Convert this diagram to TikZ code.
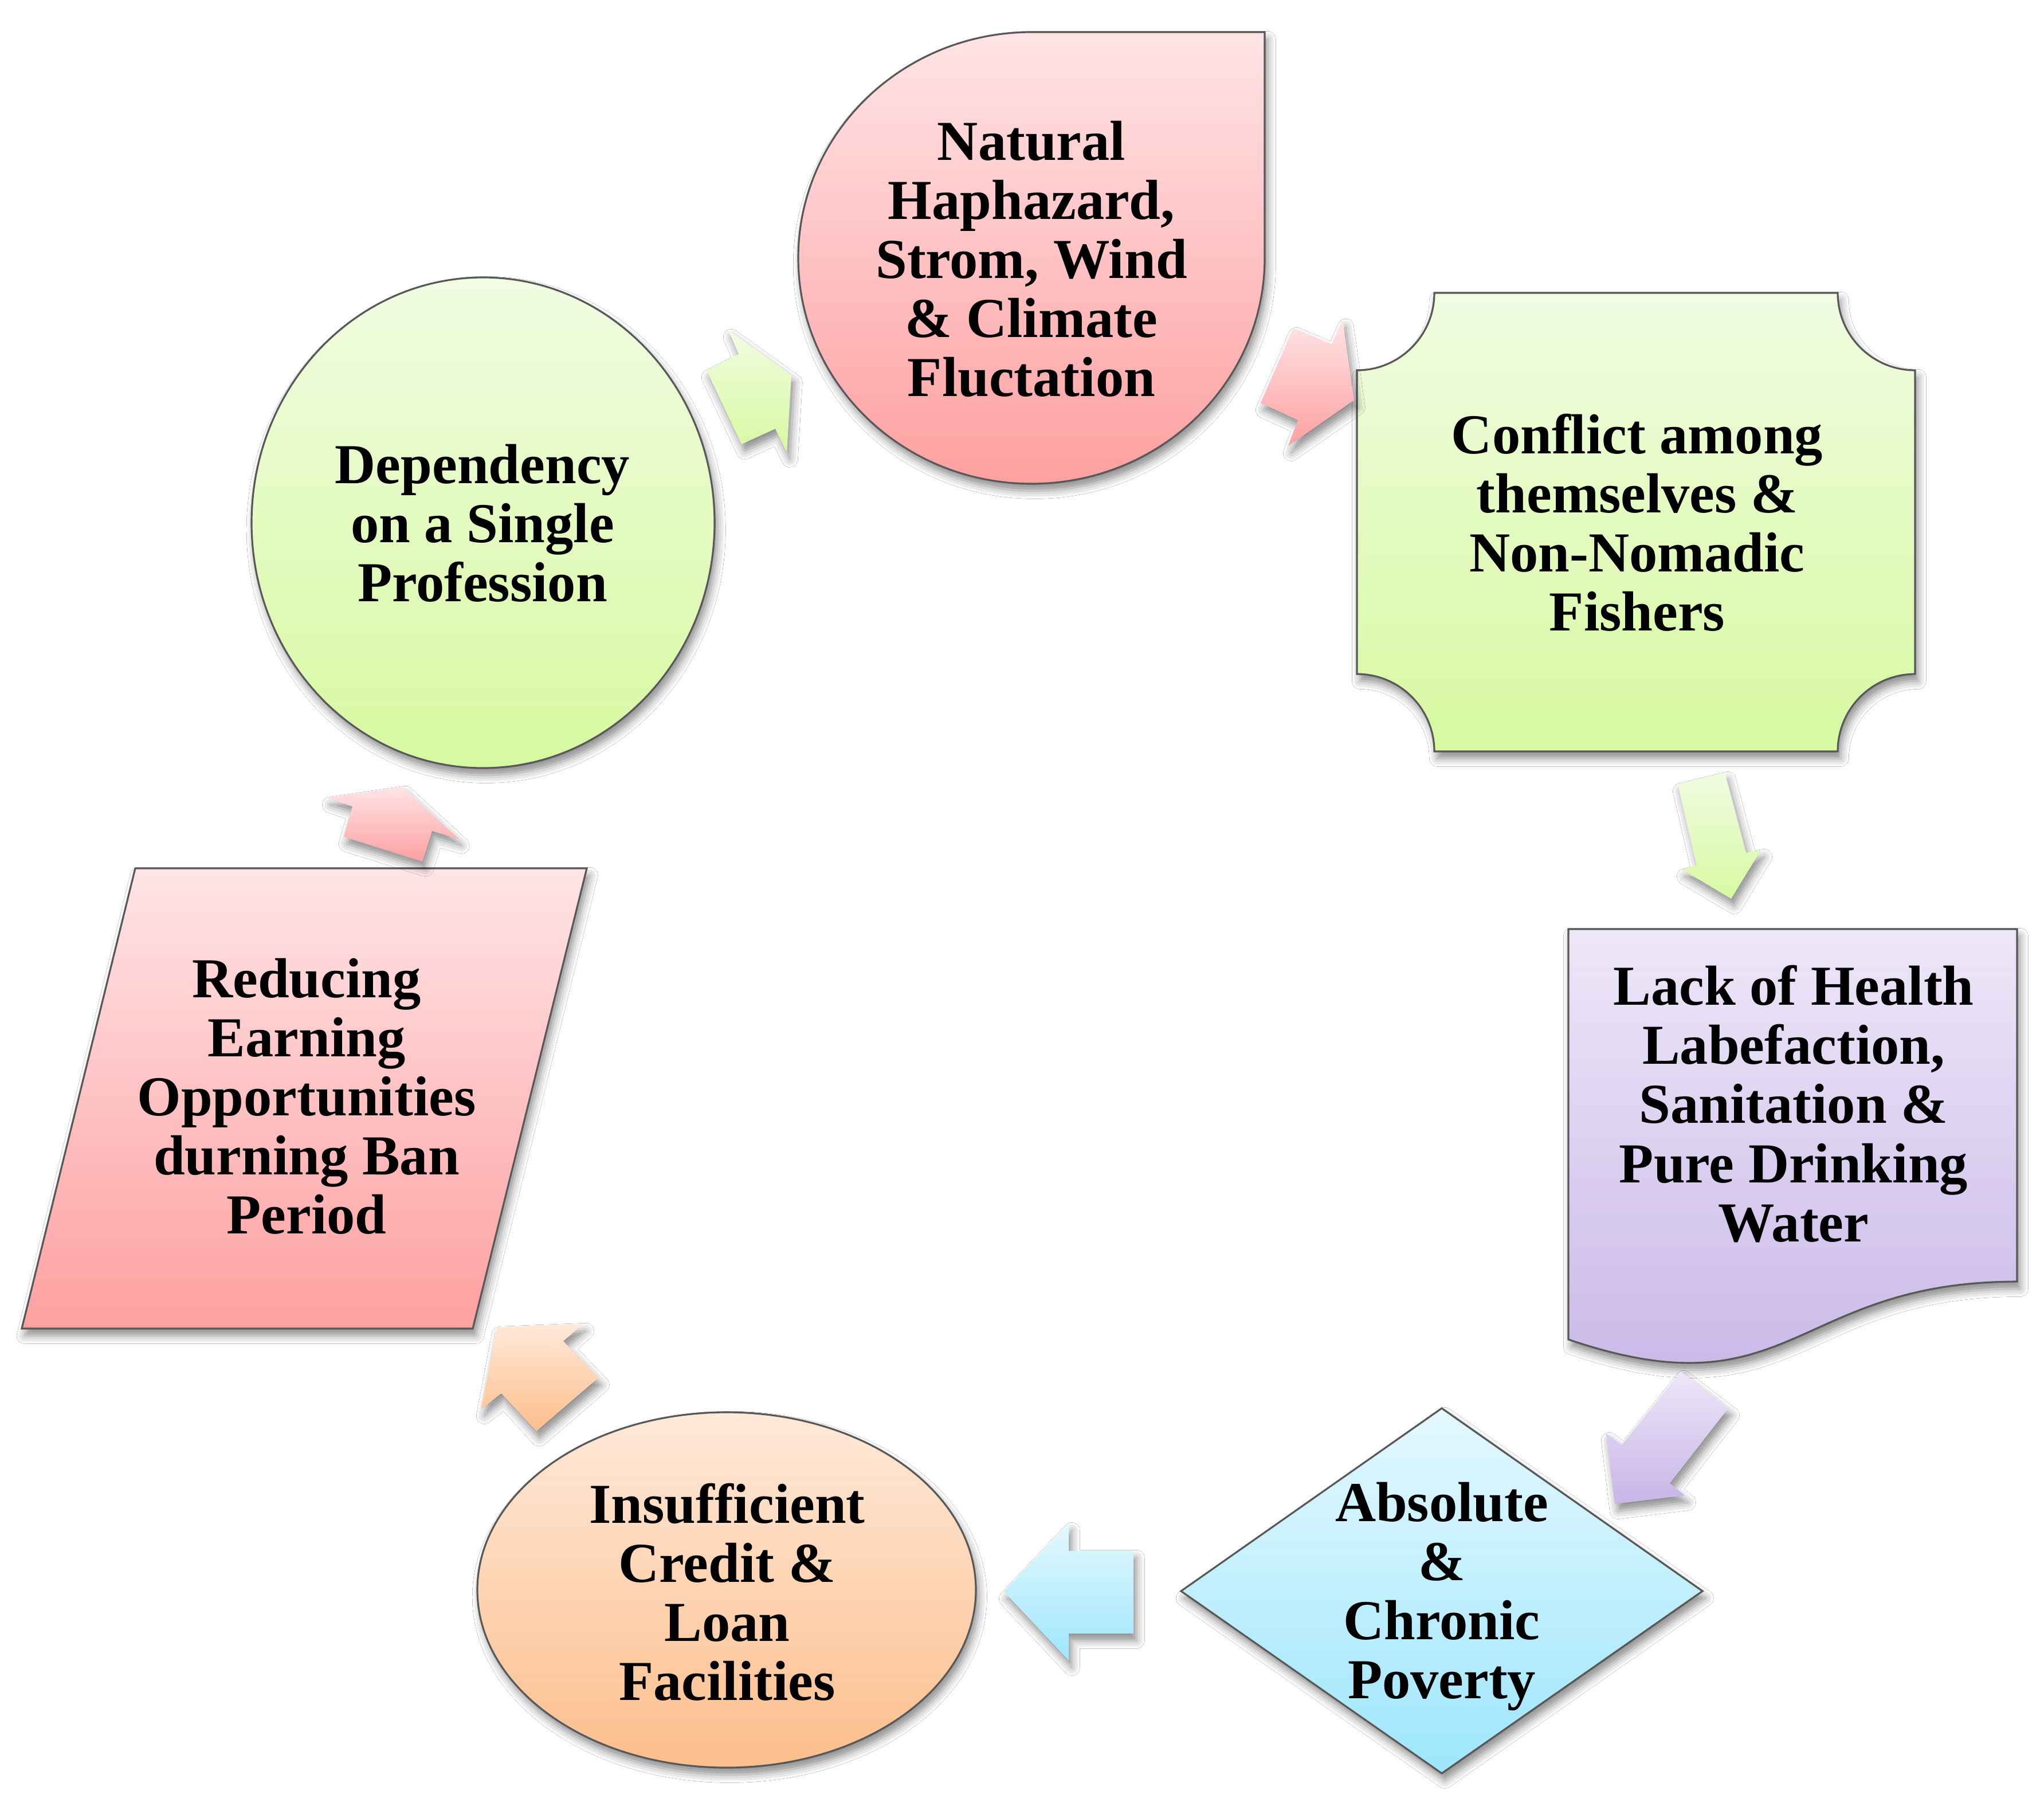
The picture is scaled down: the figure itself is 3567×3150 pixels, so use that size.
\documentclass[tikz,border=0pt]{standalone}
\usepackage{fontspec}
\setmainfont{Liberation Serif}
\usetikzlibrary{shadows.blur}

\definecolor{pinktop}{RGB}{255,228,230}
\definecolor{pinkbot}{RGB}{254,160,160}
\definecolor{greentop}{RGB}{241,252,226}
\definecolor{greenbot}{RGB}{214,249,160}
\definecolor{violettop}{RGB}{237,231,248}
\definecolor{violetbot}{RGB}{199,181,231}
\definecolor{cyantop}{RGB}{228,248,255}
\definecolor{cyanbot}{RGB}{158,230,252}
\definecolor{orangetop}{RGB}{255,233,217}
\definecolor{orangebot}{RGB}{252,190,140}
\definecolor{rim}{RGB}{88,88,88}

% block arrow between two boxes: colour, then the seven corners
\newcommand{\blockarrow}[8]{%
  \path[#1fill, softshadow] (#2) -- (#3) -- (#4) -- (#5) -- (#6) -- (#7) -- (#8) -- cycle;}

\begin{document}
\begin{tikzpicture}
  [x=0.01cm,y=-0.01cm,
   pinkfill/.style={top color=pinktop,bottom color=pinkbot},
   greenfill/.style={top color=greentop,bottom color=greenbot},
   violetfill/.style={top color=violettop,bottom color=violetbot},
   cyanfill/.style={top color=cyantop,bottom color=cyanbot},
   orangefill/.style={top color=orangetop,bottom color=orangebot},
   softshadow/.style={blur shadow={shadow xshift=1.5pt,shadow yshift=-3.5pt,shadow blur radius=4pt,shadow opacity=45}},
   shapebox/.style={softshadow,draw=rim,line width=0.9pt},
   boxtext/.style={align=center,inner sep=0pt,font={\fontsize{28}{29.3}\selectfont\bfseries}}]

  \fill[white] (0,0) rectangle (3567,3150);
  \useasboundingbox (0,0) rectangle (3567,3150);

  % boxes
  \path[shapebox,greenfill] (843,912) ellipse [x radius=404,y radius=428];
  \path[shapebox,pinkfill] (2207,450) arc [start angle=0,end angle=270,x radius=407,y radius=394]
    -- (2207,56) -- cycle;
  \path[shapebox,greenfill] (2503,511) -- (3207,511) arc [start angle=180,end angle=90,radius=135]
    -- (3342,1176) arc [start angle=270,end angle=180,radius=135]
    -- (2503,1311) arc [start angle=0,end angle=-90,radius=135]
    -- (2368,646) arc [start angle=90,end angle=0,radius=135] -- cycle;
  \path[shapebox,violetfill] (2737,1621) -- (3520,1621) -- (3520,2236)
    .. controls (3128,2236) and (3128,2470) .. (2737,2337) -- cycle;
  \path[shapebox,cyanfill] (2516,2457) -- (2971,2776) -- (2516,3094) -- (2061,2776) -- cycle;
  \path[shapebox,orangefill] (1268,2774) ellipse [x radius=435,y radius=310];
  \path[shapebox,pinkfill] (236,1515) -- (1024,1515) -- (825,2318) -- (38,2318) -- cycle;

  % arrows round the cycle
  \blockarrow{green}{1233,646}{1289,618}{1271,576}{1381,655}{1373,789}{1353,748}{1294,775}
  \blockarrow{pink}{2257,573}{2324,601}{2343,558}{2363,698}{2248,778}{2265,733}{2200,703}
  \blockarrow{green}{2928,1368}{3010,1348}{3047,1488}{3073,1483}{3021,1568}{2935,1517}{2961,1510}
  \blockarrow{violet}{2933,2393}{3016,2457}{2914,2588}{2940,2609}{2818,2624}{2803,2501}{2830,2521}
  \blockarrow{cyan}{1978,2706}{1865,2706}{1865,2658}{1752,2777}{1865,2897}{1865,2850}{1978,2850}
  \blockarrow{orange}{1044,2404}{983,2340}{1017,2310}{867,2316}{840,2458}{875,2431}{936,2497}
  \blockarrow{pink}{600,1460}{615,1407}{571,1392}{702,1373}{800,1463}{754,1450}{737,1503}

  % texts
  \node[boxtext] (depend) at (842,913) {Dependency\\on a Single\\Profession};
  \node[boxtext] (natural) at (1800,452) {Natural\\Haphazard,\\Strom, Wind\\\& Climate\\Fluctation};
  \node[boxtext] (conflict) at (2857,912) {Conflict among\\themselves \&\\Non-Nomadic\\Fishers};
  \node[boxtext] (health) at (3130,1926) {Lack of Health\\Labefaction,\\Sanitation \&\\Pure Drinking\\Water};
  \node[boxtext] (poverty) at (2516,2785) {Absolute\\\&\\Chronic\\Poverty};
  \node[boxtext] (credit) at (1269,2778) {Insufficient\\Credit \&\\Loan\\Facilities};
  \node[boxtext] (earning) at (535,1913) {Reducing\\Earning\\Opportunities\\durning Ban\\Period};

\end{tikzpicture}
\end{document}
